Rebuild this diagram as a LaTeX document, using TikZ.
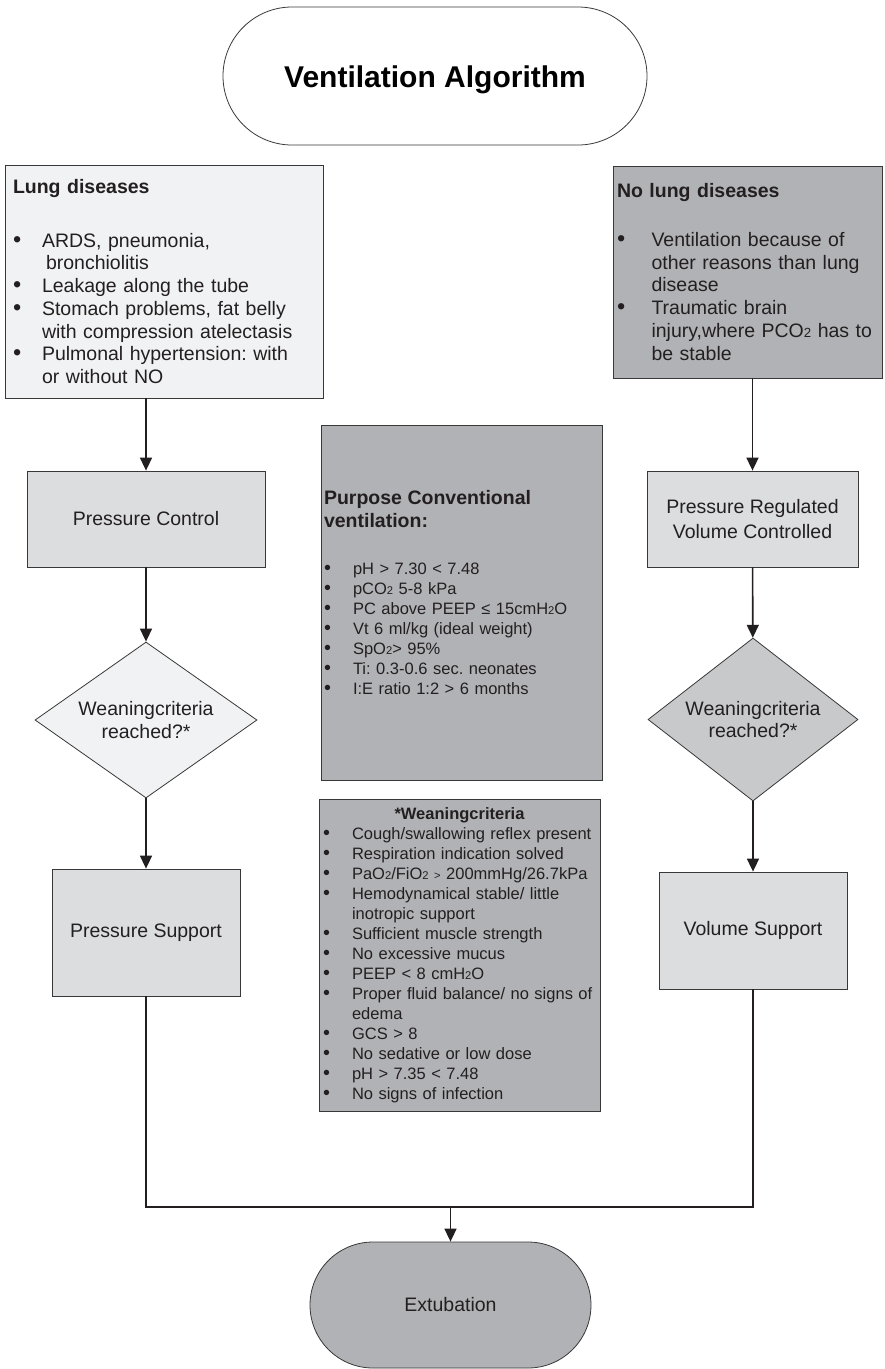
\documentclass[tikz,border=0pt]{standalone}
\usepackage{fontspec}
\setmainfont{Liberation Sans}
\usetikzlibrary{shapes.geometric,shapes.misc,arrows.meta}
\definecolor{inkgray}{HTML}{231F20}
\definecolor{palegray}{HTML}{F1F2F3}
\definecolor{boxgray}{HTML}{DCDDDF}
\definecolor{midgray}{HTML}{C8C9CB}
\definecolor{deepgray}{HTML}{B1B2B5}
\newcommand{\bul}[1][29pt]{\makebox[#1][l]{\scalebox{1.2}{\textbullet}}}
\newcommand{\ind}[1][29pt]{\hspace*{#1}}
\newcommand{\sml}[1]{\scalebox{0.68}{#1}}
\newcommand{\bodysize}{\fontsize{19.5pt}{22.7pt}\selectfont}
\newcommand{\listsize}{\fontsize{16.5pt}{20pt}\selectfont}
\frenchspacing
\begin{document}
\frenchspacing
\begin{tikzpicture}[x=1pt, y=-1pt,
  outline/.style={draw=black!78, line width=0.8pt, text=inkgray, inner sep=0pt},
  stepbox/.style={outline, rectangle, fill=boxgray, font=\bodysize, align=center},
  notebox/.style={outline, rectangle, align=left},
  question/.style={outline, diamond, font=\bodysize, align=center},
  terminal/.style={outline, rounded rectangle, font=\bodysize},
  flow/.style={draw=inkgray, line width=1.6pt, -{Triangle[length=13pt,width=12pt]}},
  joinline/.style={draw=inkgray, line width=1.6pt}]
\useasboundingbox (0,0) rectangle (885,1369);

% start and end
\node[terminal, fill=white, text=black, minimum width=424pt, minimum height=138pt, text height=30pt,
  font=\fontsize{30pt}{36pt}\selectfont\bfseries] (title) at (435,76) {Ventilation Algorithm};
\node[terminal, fill=deepgray, minimum width=281pt, minimum height=126pt] (ext) at (450.5,1305) {Extubation};

% patient groups
\node[notebox, fill=palegray, font=\bodysize, minimum width=318pt, minimum height=233pt,
  text width=302pt, inner xsep=8pt] (lung) at (164,281.5) {%
{\fontsize{19.5pt}{22.7pt}\selectfont\bfseries Lung diseases}\\[31pt]
\bul ARDS, pneumonia,\\
\ind\hspace{4pt}bronchiolitis\\
\bul Leakage along the tube\\
\bul Stomach problems, fat belly\\
\ind with compression atelectasis\\
\bul Pulmonal hypertension: with\\
\ind or without NO};
\node[notebox, fill=deepgray, font=\bodysize, minimum width=269pt, minimum height=212pt,
  text width=261pt, inner xsep=4pt] (nolung) at (747.5,272) {%
{\fontsize{19.5pt}{22.7pt}\selectfont\bfseries No lung diseases}\\[26pt]
\bul[28pt] Ventilation because of\\
\ind[28pt] other reasons than lung\\
\ind[28pt] disease\\
\bul[28pt] Traumatic brain\\
\ind[28pt] injury,where PCO\sml{2} has to\\
\ind[28pt] be stable};

% left column
\node[stepbox, minimum width=238pt, minimum height=96pt] (pc) at (146,519) {Pressure Control};
\node[question, fill=palegray, aspect=1.42, minimum width=222pt, minimum height=156pt] (ldia) at (146,720) {Weaningcriteria\\reached?*};
\node[stepbox, minimum width=188pt, minimum height=127pt] (ps) at (146,932.5) {Pressure Support};

% right column
\node[stepbox, minimum width=211pt, minimum height=96pt] (prvc) at (752.5,519) {Pressure Regulated\\[2pt]Volume Controlled};
\node[question, fill=midgray, aspect=1.29, minimum width=210pt, minimum height=163pt] (rdia) at (753,719.5) {Weaningcriteria\\reached?*};
\node[stepbox, minimum width=188pt, minimum height=117pt] (vs) at (753,930.5) {Volume Support};

% middle notes
\node[notebox, fill=deepgray, font=\listsize, minimum width=281pt, minimum height=355pt,
  text width=275pt, inner xsep=3pt] (purpose) at (461.5,602.5) {%
{\fontsize{19.5pt}{23pt}\selectfont\bfseries Purpose Conventional\\[3pt]ventilation:}\\[27pt]
\bul pH > 7.30 < 7.48\\
\bul pCO\sml{2} 5-8 kPa\\
\bul PC above PEEP ≤ 15cmH\sml{2}O\\
\bul Vt 6 ml/kg (ideal weight)\\
\bul SpO\sml{2}> 95\%\\
\bul Ti: 0.3-0.6 sec. neonates\\
\bul I:E ratio 1:2 > 6 months\\[0pt]
\mbox{}};
\node[notebox, fill=deepgray, font=\listsize, minimum width=281pt, minimum height=312pt,
  text width=273pt, inner xsep=4pt] (criteria) at (459.5,955) {%
\makebox[273pt][c]{\bfseries *Weaningcriteria}\\
\bul Cough/swallowing reflex present\\
\bul Respiration indication solved\\
\bul PaO\sml{2}/FiO\sml{2} \sml{>} 200mmHg/26.7kPa\\
\bul Hemodynamical stable/ little\\
\ind inotropic support\\
\bul Sufficient muscle strength\\
\bul No excessive mucus\\
\bul PEEP < 8 cmH\sml{2}O\\
\bul Proper fluid balance/ no signs of\\
\ind edema\\
\bul GCS > 8\\
\bul No sedative or low dose\\
\bul pH > 7.35 < 7.48\\
\bul No signs of infection};

\coordinate (jn) at (450.5,1207);

\draw[flow] (lung.south -| pc.north) -- (pc.north);
\draw[flow] (pc) -- (ldia);
\draw[flow] (ldia) -- (ps);
\draw[flow] (nolung.south -| prvc.north) -- (prvc.north);
\draw[flow] (prvc) -- (rdia);
\draw[flow] (rdia) -- (vs);
\draw[joinline] (ps.south) |- (jn) -| (vs.south);
\draw[flow] (jn) -- (ext.north);

\end{tikzpicture}
\end{document}
